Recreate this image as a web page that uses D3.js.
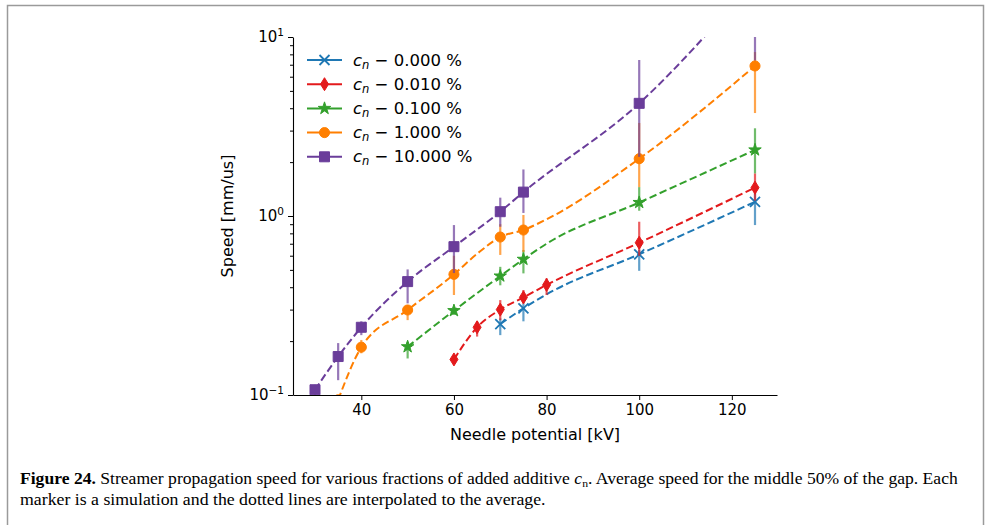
<!DOCTYPE html>
<html>
<head>
<meta charset="utf-8">
<script src="https://cdn.jsdelivr.net/npm/d3@7"></script>
<style>
  body { margin: 0; background: #fff; }
  svg text { font-family: "DejaVu Sans", sans-serif; }
  .cap { font-family: "Liberation Serif", serif; }
</style>
</head>
<body>
<div id="chart"></div>
<script>
// values (speed in mm/us, potential in kV)
var seriesNames = ["0.000", "0.010", "0.100", "1.000", "10.000"];
var colors = ["#1f78b4", "#e31a1c", "#33a02c", "#ff7f00", "#6a3d9a"];
var markers = ["x", "d", "star", "circle", "square"];

var blueX = [70, 75, 100, 125];
var blueY = [0.249, 0.305, 0.611, 1.20];
var blueLo = [0.216, 0.258, 0.494, 0.89];
var blueHi = [0.268, 0.325, 0.646, 1.345];
var blueLineX = [70, 75, 80, 100, 125];
var blueLineY = [0.249, 0.305, 0.365, 0.611, 1.20];

var redX = [60, 65, 70, 75, 80, 100, 125];
var redY = [0.158, 0.239, 0.30, 0.351, 0.412, 0.709, 1.44];
var redLo = [0.150, 0.212, 0.262, 0.325, 0.362, 0.60, 1.22];
var redHi = [0.166, 0.258, 0.339, 0.386, 0.449, 0.929, 1.73];
var redLineX = [60, 65, 70, 75, 80, 100, 125];
var redLineY = [0.158, 0.239, 0.30, 0.351, 0.412, 0.709, 1.44];

var greenX = [50, 60, 70, 75, 100, 125];
var greenY = [0.186, 0.296, 0.462, 0.573, 1.19, 2.34];
var greenLo = [0.160, 0.28, 0.41, 0.478, 1.07, 1.73];
var greenHi = [0.198, 0.31, 0.52, 0.646, 1.45, 3.09];
var greenLineX = [50, 60, 70, 75, 80, 100, 125];
var greenLineY = [0.186, 0.296, 0.462, 0.573, 0.70, 1.19, 2.34];

var orangeX = [35, 40, 50, 60, 70, 75, 100, 125];
var orangeY = [0.094, 0.185, 0.2985, 0.472, 0.763, 0.835, 2.09, 6.89];
var orangeLo = [0.08, 0.171, 0.262, 0.362, 0.606, 0.63, 1.45, 3.76];
var orangeHi = [0.10, 0.203, 0.318, 0.60, 0.90, 1.013, 3.31, 8.24];
var orangeLineX = [35, 40, 50, 60, 65, 70, 75, 80, 100, 125];
var orangeLineY = [0.094, 0.185, 0.2985, 0.472, 0.615, 0.763, 0.835, 0.958, 2.09, 6.89];

var purpleX = [30, 35, 40, 50, 60, 70, 75, 100, 125];
var purpleY = [0.107, 0.164, 0.239, 0.43, 0.674, 1.057, 1.36, 4.26, 21];
var purpleLo = [0.10, 0.121, 0.216, 0.325, 0.48, 0.871, 1.04, 2.14, 7.4];
var purpleHi = [0.114, 0.195, 0.258, 0.503, 0.89, 1.266, 1.82, 7.44, 30];
var purpleLineX = [30, 35, 40, 50, 60, 70, 75, 100, 125];
var purpleLineY = [0.107, 0.164, 0.239, 0.43, 0.674, 1.057, 1.36, 4.26, 21];

var xTicks = [40, 60, 80, 100, 120];
var yMajor = [0.1, 1, 10];
var yMajorExp = ["\u22121", "0", "1"];

var W = 988, H = 525;
var pLeft = 293, pRight = 777, pTop = 37, pBottom = 395;

var svg = d3.select("#chart").append("svg")
  .attr("width", W)
  .attr("height", H);

svg.append("rect")
  .attr("x", 7.5).attr("y", 5.5)
  .attr("width", 976).attr("height", 600)
  .attr("fill", "none")
  .attr("stroke", "#9a9a9a")
  .attr("stroke-width", 1.5);

var x = d3.scaleLinear().domain([25.25, 129.75]).range([pLeft, pRight]);
var y = d3.scaleLog().domain([0.1, 10]).range([pBottom, pTop]);

svg.append("clipPath").attr("id", "clip")
  .append("rect")
  .attr("x", pLeft).attr("y", pTop)
  .attr("width", pRight - pLeft).attr("height", pBottom - pTop);

var series = [
  {x: blueX, y: blueY, lo: blueLo, hi: blueHi, lx: blueLineX, ly: blueLineY},
  {x: redX, y: redY, lo: redLo, hi: redHi, lx: redLineX, ly: redLineY},
  {x: greenX, y: greenY, lo: greenLo, hi: greenHi, lx: greenLineX, ly: greenLineY},
  {x: orangeX, y: orangeY, lo: orangeLo, hi: orangeHi, lx: orangeLineX, ly: orangeLineY},
  {x: purpleX, y: purpleY, lo: purpleLo, hi: purpleHi, lx: purpleLineX, ly: purpleLineY}
];

function markerPath(type) {
  if (type === "x") return "M-5,-5L5,5M-5,5L5,-5";
  if (type === "d") return "M0,-6.5L4,0L0,6.5L-4,0Z";
  if (type === "star") return d3.symbol().type(d3.symbolStar).size(48)();
  if (type === "circle") return d3.symbol().type(d3.symbolCircle).size(80)();
  return "M-5,-5H5V5H-5Z";
}

function drawMarker(g, type, color) {
  var p = g.append("path").attr("d", markerPath(type));
  if (type === "x") {
    p.attr("fill", "none").attr("stroke", color).attr("stroke-width", 1.8);
  } else {
    p.attr("fill", color).attr("stroke", color).attr("stroke-width", 1);
  }
  return p;
}

var plot = svg.append("g").attr("clip-path", "url(#clip)");

var line = d3.line()
  .x(function (d) { return x(d[0]); })
  .y(function (d) { return y(d[1]); })
  .curve(d3.curveMonotoneX);

series.forEach(function (s, i) {
  var c = colors[i];
  var g = plot.append("g");
  var pts = s.lx.map(function (v, j) { return [v, s.ly[j]]; });
  g.append("path")
    .attr("d", line(pts))
    .attr("fill", "none")
    .attr("stroke", c)
    .attr("stroke-width", 2)
    .attr("stroke-dasharray", "7.5,3.5");

  g.selectAll(".bar")
    .data(s.x)
    .enter().append("line")
    .attr("x1", function (d) { return x(d); })
    .attr("x2", function (d) { return x(d); })
    .attr("y1", function (d, j) { return y(s.lo[j]); })
    .attr("y2", function (d, j) { return y(s.hi[j]); })
    .attr("stroke", c)
    .attr("stroke-width", 2.2)
    .attr("stroke-opacity", 0.7);

  s.x.forEach(function (d, j) {
    var m = g.append("g").attr("transform", "translate(" + x(d) + "," + y(s.y[j]) + ")");
    drawMarker(m, markers[i], c);
  });
});

// axes
var xAxis = svg.append("g")
  .attr("transform", "translate(0," + pBottom + ")")
  .call(d3.axisBottom(x).tickValues(xTicks).tickSize(5).tickSizeOuter(0).tickPadding(4).tickFormat(d3.format("d")));
xAxis.select(".domain").attr("stroke", "#000").attr("stroke-width", 1.1);
xAxis.selectAll("text").attr("font-size", "15px").attr("fill", "#000").attr("font-family", "DejaVu Sans");

var minor = [];
[0.1, 1].forEach(function (b) { for (var k = 2; k <= 9; k++) minor.push(b * k); });

var yAxis = svg.append("g").attr("transform", "translate(" + pLeft + ",0)");
yAxis.call(d3.axisLeft(y).tickValues(minor).tickSize(3).tickFormat(""));
yAxis.select(".domain").remove();
var yAxisMaj = svg.append("g").attr("transform", "translate(" + pLeft + ",0)")
  .call(d3.axisLeft(y).tickValues(yMajor).tickSize(5).tickSizeOuter(0).tickFormat(""));
yAxisMaj.select(".domain").attr("stroke", "#000").attr("stroke-width", 1.1);

yMajor.forEach(function (v, i) {
  var t = svg.append("text")
    .attr("x", pLeft - 9)
    .attr("y", y(v) + 5)
    .attr("text-anchor", "end")
    .attr("font-size", "15px");
  t.append("tspan").text("10");
  t.append("tspan").attr("dy", -6).attr("font-size", "10.5px").text(yMajorExp[i]);
});

svg.append("text")
  .attr("x", (pLeft + pRight) / 2)
  .attr("y", 440)
  .attr("text-anchor", "middle")
  .attr("font-size", "16px")
  .text("Needle potential [kV]");

svg.append("text")
  .attr("transform", "translate(233," + ((pTop + pBottom) / 2) + ") rotate(-90)")
  .attr("text-anchor", "middle")
  .attr("font-size", "16px")
  .text("Speed [mm/us]");

// legend
var leg = svg.append("g").attr("transform", "translate(307,60)");
seriesNames.forEach(function (name, i) {
  var row = leg.append("g").attr("transform", "translate(0," + (i * 24.2) + ")");
  row.append("line").attr("x1", 0).attr("x2", 35).attr("y1", 0).attr("y2", 0)
    .attr("stroke", colors[i]).attr("stroke-width", 2);
  var m = row.append("g").attr("transform", "translate(17.5,0)");
  drawMarker(m, markers[i], colors[i]);
  var t = row.append("text").attr("x", 46).attr("y", 5.5).attr("font-size", "16.5px");
  t.append("tspan").attr("font-style", "italic").text("c");
  t.append("tspan").attr("font-style", "italic").attr("font-size", "11.5px").attr("dy", 3).text("n");
  t.append("tspan").attr("dy", -3).text(" \u2212 " + name + " %");
});

// caption
function captionLine(yy, width, parts) {
  var t = svg.append("text").attr("class", "cap").attr("y", 0).attr("font-size", "16.5px");
  parts.forEach(function (p) {
    var ts = t.append("tspan").text(p.t);
    if (p.b) ts.attr("font-weight", "bold");
    if (p.i) ts.attr("font-style", "italic");
    if (p.sub) ts.attr("font-size", "11px").attr("dy", 3);
    if (p.up) ts.attr("dy", -3);
  });
  var len = t.node().getComputedTextLength();
  t.attr("transform", "translate(20," + yy + ") scale(" + (width / len) + ",1)");
}
captionLine(484, 938, [
  {t: "Figure 24.", b: true},
  {t: " Streamer propagation speed for various fractions of added additive "},
  {t: "c", i: true},
  {t: "n", sub: true},
  {t: ". Average speed for the middle 50% of the gap. Each", up: true}
]);
captionLine(505, 526, [
  {t: "marker is a simulation and the dotted lines are interpolated to the average."}
]);
</script>
</body>
</html>
